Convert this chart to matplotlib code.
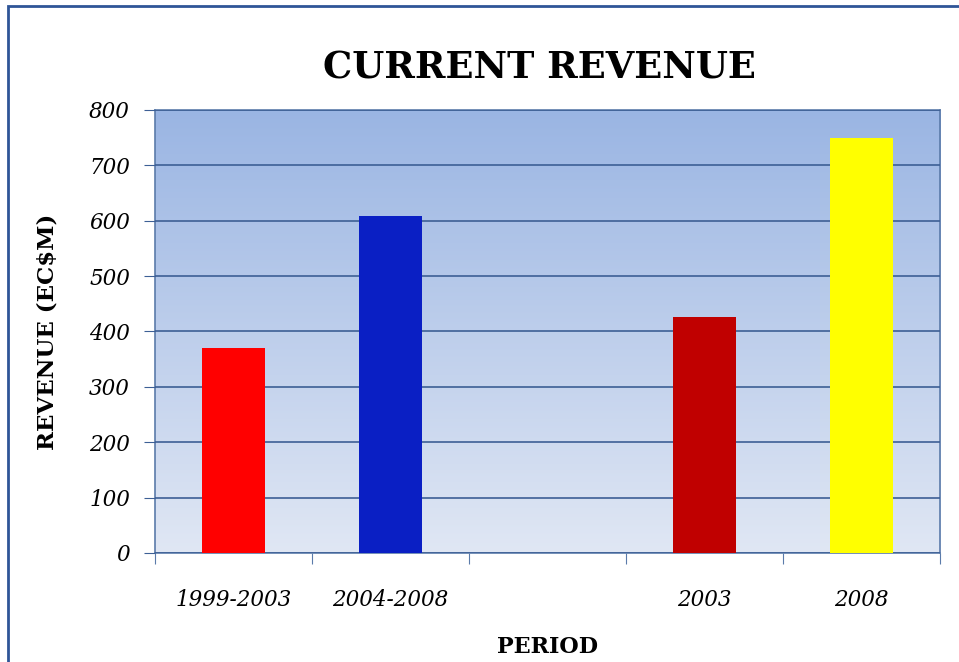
import numpy as np
import matplotlib
matplotlib.use("Agg")
import matplotlib.pyplot as plt
from matplotlib.patches import Rectangle

periods = ["1999-2003", "2004-2008", "", "2003", "2008"]
revenue = [370, 608, 0, 426, 750]
colors = ["#ff0000", "#0a1fc4", "none", "#c00000", "#ffff00"]

plt.rcParams['font.family'] = ['DejaVu Serif']

fig = plt.figure(figsize=(9.59, 6.62), dpi=100)
ax = fig.add_axes([0.1616, 0.1647, 0.8186, 0.6692])

# gradient background
grad = np.linspace(0, 1, 256).reshape(-1, 1)
top = np.array([0x9a, 0xb5, 0xe3]) / 255
bot = np.array([0xe0, 0xe7, 0xf4]) / 255
img = top + (bot - top) * grad[:, :, None]
ax.imshow(img, extent=[-0.5, 4.5, 0, 800], aspect='auto', zorder=0)

x = np.arange(len(periods))
ax.bar(x, revenue, width=0.4, color=colors, zorder=3)

ax.set_xlim(-0.5, 4.5)
ax.set_ylim(0, 800)
ax.set_yticks(range(0, 801, 100))
ax.yaxis.grid(True, color="#3d5f95", linewidth=1.2, zorder=1)
ax.set_axisbelow(False)
ax.set_xticks(np.arange(-0.5, 4.6, 1))
ax.set_xticklabels([])
ax.set_xticks(x, minor=True)
ax.set_xticklabels(periods, minor=True, fontstyle='italic', fontsize=15.5)
ax.tick_params(axis='x', which='minor', length=0, pad=26)
ax.tick_params(axis='x', which='major', length=8, direction='out', color="#5b7baa")
ax.tick_params(axis='y', length=8, color="#3d5f95", pad=10)
for tl in ax.get_yticklabels():
    tl.set_fontstyle('italic')
    tl.set_fontsize(15.5)
for s in ax.spines.values():
    s.set_color("#5b7baa")
    s.set_linewidth(1.2)

ax.set_ylabel("REVENUE (EC\\$M)", fontsize=16.5, fontweight='bold', labelpad=22)
ax.set_xlabel("PERIOD", fontsize=16, fontweight='bold', labelpad=18)
fig.text(0.563, 0.897, "CURRENT REVENUE", ha='center', va='center',
         fontsize=26.5, fontweight='bold')

fig.patches.append(Rectangle((8 / 959, -0.1), 1.2, 1 - 6 / 662 + 0.1,
                             transform=fig.transFigure, fill=False,
                             edgecolor="#2f5597", linewidth=2))

fig.savefig("out.png", dpi=100)
